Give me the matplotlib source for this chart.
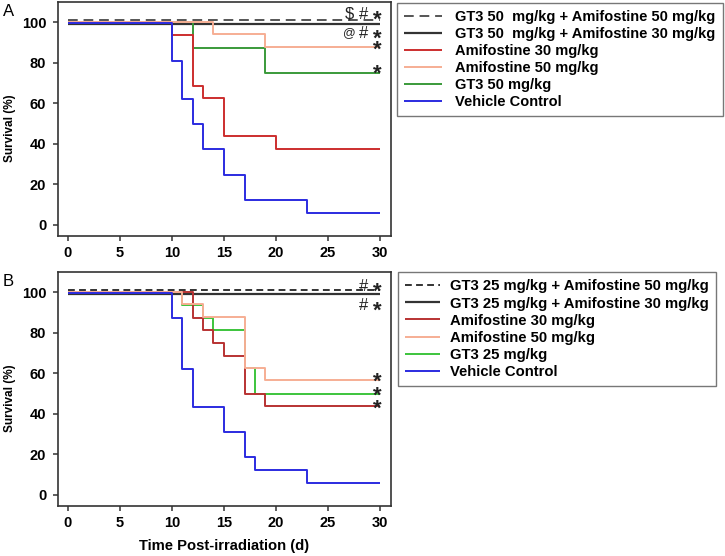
import matplotlib
matplotlib.use("Agg")
import matplotlib.pyplot as plt

plt.rcParams['font.family'] = ['Liberation Sans', 'DejaVu Sans']

# ---------------- Data: panel A ----------------
labels_A = ["GT3 50  mg/kg + Amifostine 50 mg/kg",
            "GT3 50  mg/kg + Amifostine 30 mg/kg",
            "Amifostine 30 mg/kg",
            "Amifostine 50 mg/kg",
            "GT3 50 mg/kg",
            "Vehicle Control"]
days_A_combo50 = [0, 30]
surv_A_combo50 = [100, 100]
days_A_combo30 = [0, 30]
surv_A_combo30 = [100, 100]
days_A_amif30 = [0, 10, 12, 13, 15, 20, 30]
surv_A_amif30 = [100, 93.75, 68.75, 62.5, 43.75, 37.5, 37.5]
days_A_amif50 = [0, 14, 19, 30]
surv_A_amif50 = [100, 93.75, 87.5, 87.5]
days_A_gt3 = [0, 12, 19, 30]
surv_A_gt3 = [100, 87.5, 75, 75]
days_A_veh = [0, 10, 11, 12, 13, 15, 17, 23, 30]
surv_A_veh = [100, 81.25, 62.5, 50, 37.5, 25, 12.5, 6.25, 6.25]

# ---------------- Data: panel B ----------------
labels_B = ["GT3 25 mg/kg + Amifostine 50 mg/kg",
            "GT3 25 mg/kg + Amifostine 30 mg/kg",
            "Amifostine 30 mg/kg",
            "Amifostine 50 mg/kg",
            "GT3 25 mg/kg",
            "Vehicle Control"]
days_B_combo50 = [0, 30]
surv_B_combo50 = [100, 100]
days_B_combo30 = [0, 30]
surv_B_combo30 = [100, 100]
days_B_amif30 = [0, 12, 13, 14, 15, 17, 19, 30]
surv_B_amif30 = [100, 87.5, 81.25, 75, 68.75, 50, 43.75, 43.75]
days_B_amif50 = [0, 11, 13, 17, 19, 30]
surv_B_amif50 = [100, 93.75, 87.5, 62.5, 56.25, 56.25]
days_B_gt3 = [0, 11, 13, 14, 17, 18, 30]
surv_B_gt3 = [100, 93.75, 87.5, 81.25, 62.5, 50, 50]
days_B_veh = [0, 10, 11, 12, 15, 17, 18, 23, 30]
surv_B_veh = [100, 87.5, 62.5, 43.75, 31.25, 18.75, 12.5, 6.25, 6.25]

# significance annotations: (text, x, y)
annot_A = [("$", 27.1, 104.6), ("#", 28.4, 104.6), ("*", 29.7, 104.6),
           ("@", 27.1, 95.2), ("#", 28.4, 95.2), ("*", 29.7, 95.2),
           ("*", 29.7, 89.8), ("*", 29.7, 77.8)]
annot_B = [("#", 28.4, 103.5), ("*", 29.7, 103.5),
           ("#", 28.4, 94.4), ("*", 29.7, 94.4),
           ("*", 29.7, 58.9), ("*", 29.7, 52.3), ("*", 29.7, 46.0)]

xticks = [0, 5, 10, 15, 20, 25, 30]
yticks = [0, 20, 40, 60, 80, 100]

W, H = 725, 556
fig = plt.figure(figsize=(W / 100, H / 100), dpi=100)


def px_axes(left, top, right, bottom):
    return fig.add_axes([left / W, 1 - bottom / H, (right - left) / W, (bottom - top) / H])


axA = px_axes(58, 2, 391, 236)
axB = px_axes(58, 272, 391, 506)


def draw_panel(ax, series, labels, annots, colors, dashes, leg_px, leg_fs, lspace):
    styles = [
        dict(color=colors[0], lw=1.4, dashes=dashes, zorder=6, off=1.3),
        dict(color=colors[1], lw=1.6, zorder=2, off=-0.8),
        dict(color=colors[2], lw=1.4, zorder=4, off=0.0),
        dict(color=colors[3], lw=1.4, zorder=5, off=0.3),
        dict(color=colors[4], lw=1.4, zorder=3, off=0.0),
        dict(color=colors[5], lw=1.4, zorder=5, off=-0.3),
    ]
    handles = []
    for (d, s), st, lab in zip(series, styles, labels):
        off = st.pop('off')
        y = [v + off for v in s]
        kw = dict(drawstyle='steps-post', label=lab, solid_capstyle='butt')
        if 'dashes' in st:
            kw['dashes'] = st.pop('dashes')
        h, = ax.plot(d, y, **kw, **st)
        handles.append(h)

    ax.set_xlim(-0.93, 31.06)
    ax.set_ylim(-5.5, 110)
    ax.set_xticks(xticks)
    ax.set_yticks(yticks)
    ax.tick_params(direction='out', length=3.5, width=1.1, color='#333333',
                   labelsize=10.5, pad=4)
    ax.tick_params(axis='y', pad=5)
    for lab in ax.get_xticklabels() + ax.get_yticklabels():
        lab.set_fontweight('bold')
    for sp in ax.spines.values():
        sp.set_linewidth(1.2)
        sp.set_color('#333333')
    ax.set_ylabel("Survival (%)", fontsize=8.5, fontweight='bold', va='center')
    ax.yaxis.set_label_coords(-0.144, 0.46)

    for txt, x, y in annots:
        if txt == "*":
            fs, c, wt = 16, 0.57, 'bold'
        elif txt == "@":
            fs, c, wt = 9, 0.32, 'normal'
        else:
            fs, c, wt = 12, 0.36, 'normal'
        ax.annotate(txt, (x, y), xytext=(0, -c * fs), textcoords='offset points',
                    ha='center', va='baseline', fontsize=fs, fontweight=wt,
                    color='#222222', zorder=10, annotation_clip=False)

    leg = fig.legend(handles=handles, loc='upper left',
                     bbox_to_anchor=(leg_px[0] / W, 1 - leg_px[1] / H),
                     bbox_transform=fig.transFigure, borderaxespad=0,
                     frameon=True, fancybox=False, framealpha=1,
                     edgecolor='#777777',
                     prop=dict(weight='bold', size=leg_fs),
                     handlelength=leg_px[2], handletextpad=leg_px[3],
                     labelspacing=lspace, borderpad=0.5)
    leg.get_frame().set_linewidth(1.0)
    return leg


colors_A = ['#555555', '#333333', '#cc2e2e', '#f6ae94', '#3a9a3a', '#2b2be0']
colors_B = ['#333333', '#333333', '#b83232', '#f6ae94', '#3cc43c', '#2b2be0']

draw_panel(axA,
           [(days_A_combo50, surv_A_combo50), (days_A_combo30, surv_A_combo30),
            (days_A_amif30, surv_A_amif30), (days_A_amif50, surv_A_amif50),
            (days_A_gt3, surv_A_gt3), (days_A_veh, surv_A_veh)],
           labels_A, annot_A, colors_A, (5, 3), (397, 3, 2.6, 0.9), 10.5, 0.2)
draw_panel(axB,
           [(days_B_combo50, surv_B_combo50), (days_B_combo30, surv_B_combo30),
            (days_B_amif30, surv_B_amif30), (days_B_amif50, surv_B_amif50),
            (days_B_gt3, surv_B_gt3), (days_B_veh, surv_B_veh)],
           labels_B, annot_B, colors_B, (3.5, 2.2), (398, 272, 2.3, 0.7), 10.7, 0.21)

axB.set_xlabel("Time Post-irradiation (d)", fontsize=10.6, fontweight='bold')
axB.xaxis.set_label_coords(0.4985, -0.171)
axB.xaxis.label.set_va('center')

fig.text(3 / W, 1 - 11 / H, "A", fontsize=12, va='center', ha='left')
fig.text(3 / W, 1 - 281 / H, "B", fontsize=12, va='center', ha='left')

fig.savefig("out.png", dpi=100)
